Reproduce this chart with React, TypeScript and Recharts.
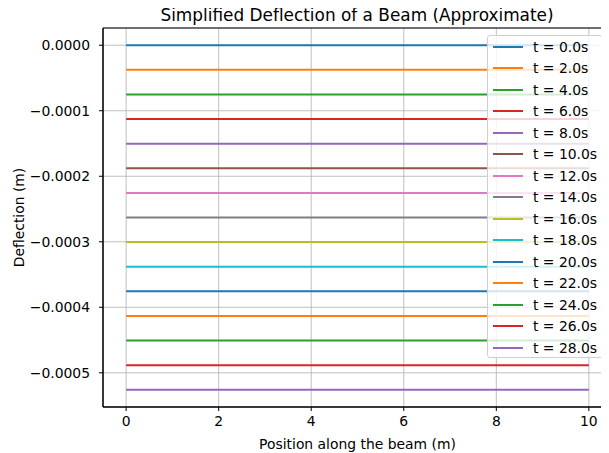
import React from "react";
import { LineChart, Line, XAxis, YAxis, CartesianGrid, Legend, ReferenceArea } from "recharts";

const positions = [0, 2.5, 5, 7.5, 10];
const times = [0, 2, 4, 6, 8, 10, 12, 14, 16, 18, 20, 22, 24, 26, 28];
const deflections = [
  0, -0.0000376, -0.0000751, -0.0001127, -0.0001503, -0.0001878, -0.0002254, -0.000263,
  -0.0003005, -0.0003381, -0.0003757, -0.0004132, -0.0004508, -0.0004884, -0.0005259,
];
const xTicks = [0, 2, 4, 6, 8, 10];
const yTicks = [0, -0.0001, -0.0002, -0.0003, -0.0004, -0.0005];

const colors = [
  "#1f77b4", "#ff7f0e", "#2ca02c", "#d62728", "#9467bd", "#8c564b", "#e377c2",
  "#7f7f7f", "#bcbd22", "#17becf",
];

const font = "'DejaVu Sans', sans-serif";
const yMin = -0.0005522;
const yMax = 0.0000263;

const data = positions.map((x) => {
  const row: Record<string, number> = { x };
  deflections.forEach((d, i) => {
    row[`t${i}`] = d;
  });
  return row;
});

const fmtY = (v: number) => (v === 0 ? "0.0000" : "\u2212" + Math.abs(v).toFixed(4));

const LegendBox = () => (
  <div
    style={{
      width: 116,
      height: 323,
      border: "1px solid #d0d0d0",
      borderRadius: 3,
      background: "rgba(255,255,255,0.8)",
      fontFamily: font,
      fontSize: 13.9,
      color: "#000",
      boxSizing: "border-box",
    }}
  >
    {times.map((t, i) => (
      <div key={t} style={{ height: 21.5, display: "flex", alignItems: "center" }}>
        <div
          style={{
            marginLeft: 5,
            width: 30,
            height: 2,
            background: colors[i % colors.length],
          }}
        />
        <span style={{ marginLeft: 10, whiteSpace: "nowrap" }}>{`t = ${t.toFixed(1)}s`}</span>
      </div>
    ))}
  </div>
);

export default function App() {
  return (
    <div
      style={{
        position: "relative",
        margin: "-8px 0 0 -8px",
        width: 609,
        height: 453,
        overflow: "hidden",
        background: "#fff",
      }}
    >
      <LineChart
        width={620}
        height={453}
        data={data}
        margin={{ top: 28, right: 8, bottom: 0, left: 0 }}
      >
        <CartesianGrid stroke="#b0b0b0" strokeWidth={0.8} />
        <XAxis
          dataKey="x"
          type="number"
          domain={[-0.5, 10.5]}
          ticks={xTicks}
          allowDataOverflow
          height={46}
          tickSize={4}
          tickMargin={5}
          stroke="#000"
          tick={{ fill: "#000", fontFamily: font, fontSize: 13.9 }}
          label={{
            value: "Position along the beam (m)",
            position: "insideBottom",
            offset: 4,
            fill: "#000",
            fontFamily: font,
            fontSize: 13.9,
          }}
        />
        <YAxis
          type="number"
          domain={[yMin, yMax]}
          ticks={yTicks}
          allowDataOverflow
          width={103}
          tickSize={4}
          tickMargin={9}
          stroke="#000"
          tickFormatter={fmtY}
          tick={{ fill: "#000", fontFamily: font, fontSize: 13.9 }}
          label={{
            value: "Deflection (m)",
            angle: -90,
            position: "insideLeft",
            offset: 19,
            style: { textAnchor: "middle" },
            fill: "#000",
            fontFamily: font,
            fontSize: 13.9,
          }}
        />
        <ReferenceArea x1={-0.5} x2={10.5} y1={yMin} y2={yMax} fill="none" stroke="#000" strokeWidth={1} />
        {times.map((t, i) => (
          <Line
            key={t}
            dataKey={`t${i}`}
            name={`t = ${t.toFixed(1)}s`}
            stroke={colors[i % colors.length]}
            strokeWidth={2}
            dot={false}
            isAnimationActive={false}
          />
        ))}
        <Legend
          layout="vertical"
          align="center"
          verticalAlign="middle"
          content={() => <LegendBox />}
          wrapperStyle={{ position: "absolute", left: 487, top: 35, width: 118, height: 325 }}
        />
      </LineChart>
      <div
        style={{
          position: "absolute",
          zIndex: 2,
          pointerEvents: "none",
          left: 0,
          width: 714,
          top: 3,
          lineHeight: "24px",
          textAlign: "center",
          fontFamily: font,
          fontSize: 16.9,
          color: "#000",
        }}
      >
        Simplified Deflection of a Beam (Approximate)
      </div>
    </div>
  );
}
